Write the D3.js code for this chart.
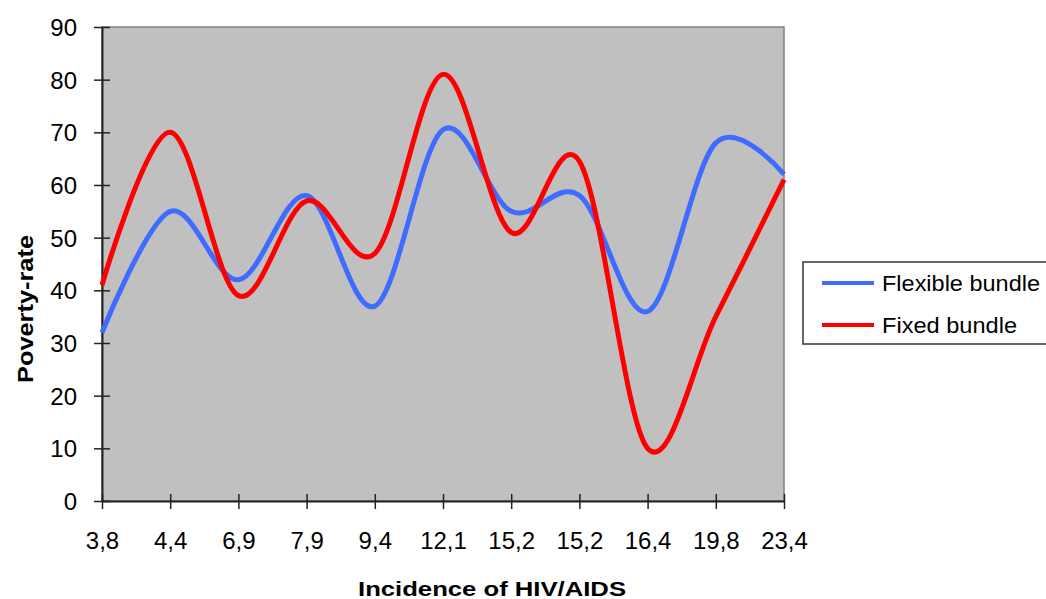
<!DOCTYPE html>
<html lang="en">
<head>
<meta charset="UTF-8">
<title>Poverty-rate vs HIV/AIDS</title>
<style>
  body { margin: 0; background: #fff; }
  svg text { font-family: "Liberation Sans", Arial, sans-serif; fill: #000; }
</style>
</head>
<body>
<script src="https://cdn.jsdelivr.net/npm/d3@7"></script>
<script>

// categories on the x axis (incidence of HIV/AIDS)
var categories = ["3,8", "4,4", "6,9", "7,9", "9,4", "12,1", "15,2", "15,2", "16,4", "19,8", "23,4"];

// poverty-rate for each bundle
var flexibleBundle = [32, 55, 42, 58, 37, 70.5, 55, 58, 36, 68, 62];
var fixedBundle    = [41, 70, 39, 57, 47, 81, 51, 64.5, 10, 35, 61];

var yTicks = [0, 10, 20, 30, 40, 50, 60, 70, 80, 90];

var seriesNames  = ["Flexible bundle", "Fixed bundle"];
var seriesColors = ["#3f6cff", "#ff0000"];

var width = 1046,
    height = 599;

var plotLeft = 102, plotRight = 784,
    plotTop = 27, plotBottom = 501;

var svg = d3.select("body")
  .append("svg")
  .attr("width", width)
  .attr("height", height);

var x = d3.scalePoint()
  .domain(d3.range(categories.length))
  .range([plotLeft, plotRight]);

var y = d3.scaleLinear()
  .domain([0, 90])
  .range([plotBottom, plotTop]);

// grey plot area
svg.append("rect")
  .attr("x", plotLeft)
  .attr("y", plotTop)
  .attr("width", plotRight - plotLeft)
  .attr("height", plotBottom - plotTop)
  .attr("fill", "#c0c0c0")
  .attr("stroke", "#808080")
  .attr("stroke-width", 1.5);

// y axis, ticks cross the line
var yAxis = svg.append("g")
  .attr("transform", "translate(" + plotLeft + ",0)")
  .call(d3.axisLeft(y).tickValues(yTicks).tickSizeOuter(0).tickPadding(0));

yAxis.select(".domain").attr("stroke", "#222").attr("stroke-width", 2);
yAxis.selectAll(".tick line").attr("x1", -8).attr("x2", 8).attr("stroke", "#222").attr("stroke-width", 1.5);
yAxis.selectAll(".tick text")
  .attr("x", -25)
  .attr("dy", "0.36em")
  .style("font-size", "24px");

// x axis
var xAxis = svg.append("g")
  .attr("transform", "translate(0," + plotBottom + ")")
  .call(d3.axisBottom(x).tickFormat(function(i) { return categories[i]; }).tickSizeOuter(0));

xAxis.select(".domain").attr("stroke", "#222").attr("stroke-width", 2);
xAxis.selectAll(".tick line").attr("y1", -7).attr("y2", 8).attr("stroke", "#222").attr("stroke-width", 1.5);
xAxis.selectAll(".tick text")
  .attr("y", 48)
  .attr("dy", 0)
  .style("font-size", "24px");

// axis titles
svg.append("text")
  .attr("x", 492)
  .attr("y", 596)
  .attr("text-anchor", "middle")
  .attr("textLength", 268)
  .attr("lengthAdjust", "spacingAndGlyphs")
  .style("font-size", "21px")
  .style("font-weight", "bold")
  .text("Incidence of HIV/AIDS");

svg.append("text")
  .attr("transform", "translate(33,309) rotate(-90)")
  .attr("text-anchor", "middle")
  .attr("textLength", 148)
  .attr("lengthAdjust", "spacingAndGlyphs")
  .style("font-size", "22px")
  .style("font-weight", "bold")
  .text("Poverty-rate");

// smoothed lines
var line = d3.line()
  .x(function(d, i) { return x(i); })
  .y(function(d) { return y(d); })
  .curve(d3.curveCardinal.tension(0));

[flexibleBundle, fixedBundle].forEach(function(series, k) {
  svg.append("path")
    .datum(series)
    .attr("d", line)
    .attr("fill", "none")
    .attr("stroke", seriesColors[k])
    .attr("stroke-width", 5)
    .attr("stroke-linejoin", "round");
});

// legend, box runs off the right edge
var legend = svg.append("g");

legend.append("rect")
  .attr("x", 803)
  .attr("y", 262)
  .attr("width", 260)
  .attr("height", 82)
  .attr("fill", "#fff")
  .attr("stroke", "#333")
  .attr("stroke-width", 1.5);

var legendWidths = [158, 135];

seriesNames.forEach(function(name, k) {
  var ly = 283 + k * 42;
  legend.append("line")
    .attr("x1", 822).attr("x2", 874)
    .attr("y1", ly).attr("y2", ly)
    .attr("stroke", seriesColors[k])
    .attr("stroke-width", 4);
  legend.append("text")
    .attr("x", 882)
    .attr("y", ly + 8)
    .attr("textLength", legendWidths[k])
    .attr("lengthAdjust", "spacingAndGlyphs")
    .style("font-size", "22px")
    .text(name);
});

</script>
</body>
</html>
